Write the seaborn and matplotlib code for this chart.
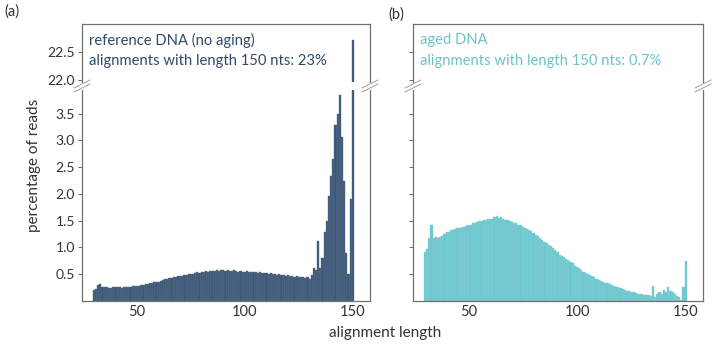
import numpy as np
import pandas as pd
import seaborn as sns
import matplotlib.pyplot as plt
from matplotlib.lines import Line2D

# alignment lengths 30..150 nts
lengths = list(range(30, 151))

ref_pct = [0.21, 0.22, 0.29, 0.31, 0.26, 0.27, 0.26, 0.25, 0.24, 0.26,
           0.26, 0.27, 0.26, 0.25, 0.26, 0.27, 0.26, 0.27, 0.28, 0.28,
           0.28, 0.28, 0.29, 0.30, 0.31, 0.32, 0.33, 0.34, 0.36, 0.35,
           0.36, 0.38, 0.40, 0.41, 0.42, 0.43, 0.43, 0.44, 0.45, 0.46,
           0.46, 0.47, 0.48, 0.48, 0.50, 0.50, 0.51, 0.52, 0.54, 0.53,
           0.55, 0.55, 0.56, 0.55, 0.56, 0.56, 0.56, 0.57, 0.56, 0.57,
           0.57, 0.56, 0.57, 0.56, 0.56, 0.57, 0.56, 0.55, 0.56, 0.55,
           0.54, 0.56, 0.55, 0.54, 0.55, 0.54, 0.53, 0.54, 0.53, 0.52,
           0.53, 0.51, 0.52, 0.50, 0.51, 0.49, 0.50, 0.48, 0.49, 0.47,
           0.48, 0.46, 0.47, 0.45, 0.46, 0.45, 0.44, 0.44, 0.43, 0.44,
           0.42, 0.48, 0.62, 0.58, 1.12, 0.62, 0.80, 1.29, 1.50, 1.97,
           2.33, 2.66, 3.28, 3.50, 3.84, 3.06, 2.25, 0.90, 0.51, 1.91,
           22.71]

aged_pct = [0.91, 0.97, 1.17, 1.42, 1.17, 1.20, 1.18, 1.19, 1.22, 1.25,
            1.28, 1.29, 1.32, 1.33, 1.34, 1.36, 1.37, 1.38, 1.39, 1.40,
            1.42, 1.41, 1.45, 1.46, 1.47, 1.49, 1.50, 1.51, 1.52, 1.53,
            1.54, 1.53, 1.57, 1.58, 1.55, 1.57, 1.54, 1.52, 1.51, 1.49,
            1.47, 1.46, 1.45, 1.42, 1.41, 1.39, 1.37, 1.35, 1.33, 1.30,
            1.27, 1.24, 1.21, 1.17, 1.14, 1.11, 1.08, 1.05, 1.02, 0.99,
            0.96, 0.91, 0.86, 0.84, 0.82, 0.79, 0.76, 0.73, 0.71, 0.66,
            0.63, 0.61, 0.58, 0.55, 0.53, 0.50, 0.48, 0.46, 0.44, 0.41,
            0.39, 0.38, 0.36, 0.34, 0.33, 0.31, 0.30, 0.28, 0.27, 0.26,
            0.24, 0.23, 0.21, 0.19, 0.18, 0.17, 0.16, 0.15, 0.14, 0.14,
            0.13, 0.12, 0.11, 0.11, 0.10, 0.28, 0.07, 0.14, 0.16, 0.13,
            0.20, 0.16, 0.27, 0.19, 0.16, 0.13, 0.10, 0.08, 0.02, 0.26,
            0.75]

panels = [
    dict(name="(a)", vals=ref_pct, color="#3d5675", edge="#5d7590", txtcolor="#2f4a68",
         lines=["reference DNA (no aging)", "alignments with length 150 nts: 23%"],
         left=82, right=370, ylabels=True),
    dict(name="(b)", vals=aged_pct, color="#6dc6cd", edge="#86d2d8", txtcolor="#6cc3ca",
         lines=["aged DNA", "alignments with length 150 nts: 0.7%"],
         left=413, right=703, ylabels=False),
]

sns.set_theme(style="white")
plt.rcParams['font.family'] = ['Lato', 'DejaVu Sans']
W, H = 720, 354
fig = plt.figure(figsize=(7.2, 3.54), dpi=100)

spine_c = "#707070"
for p in panels:
    df = pd.DataFrame({'len': lengths, 'pct': p['vals']})
    l = p['left'] / W
    w = (p['right'] - p['left']) / W
    ax_top = fig.add_axes([l, 1 - 82 / H, w, (82 - 24) / H])
    ax_bot = fig.add_axes([l, 1 - 301 / H, w, (301 - 90) / H])
    for ax in (ax_top, ax_bot):
        sns.histplot(data=df, x='len', weights='pct', discrete=True, ax=ax,
                     color=p['color'], alpha=1, edgecolor=p['edge'], linewidth=0.3)
        ax.set_xlim(24.5, 158)
        ax.set(xlabel=None, ylabel=None)
        for s in ax.spines.values():
            s.set_color(spine_c)
            s.set_linewidth(0.9)
        ax.tick_params(axis='y', which='both', left=True, length=3, width=0.8,
                       color=spine_c, labelsize=10, pad=2, labelcolor="#333333")
    ax_top.set_ylim(21.96, 23.0)
    ax_top.set_yticks([22.0, 22.5])
    ax_top.spines['bottom'].set_visible(False)
    ax_top.set_xticks([])
    ax_bot.set_ylim(0, 3.94)
    ax_bot.set_yticks([0.5, 1.0, 1.5, 2.0, 2.5, 3.0, 3.5])
    ax_bot.spines['top'].set_visible(False)
    ax_bot.set_xticks([50, 100, 150])
    ax_bot.tick_params(axis='x', labelsize=10.5, pad=3, length=0, labelcolor="#333333")
    if not p['ylabels']:
        ax_top.set_yticklabels([])
        ax_bot.set_yticklabels([])
    ax_top.text(0.025, 0.72, p['lines'][0], transform=ax_top.transAxes,
                color=p['txtcolor'], fontsize=10.6, va='center')
    ax_top.text(0.025, 0.36, p['lines'][1], transform=ax_top.transAxes,
                color=p['txtcolor'], fontsize=10.6, va='center')
    # break marks
    for xpx in (p['left'], p['right']):
        for dy in (-2, 2):
            y0 = 86 + dy
            fig.add_artist(Line2D([(xpx - 8) / W, (xpx + 8) / W],
                                  [1 - (y0 + 4) / H, 1 - (y0 - 4) / H],
                                  color="#aaaaaa", lw=0.8))

fig.text(4 / W, 1 - 12 / H, "(a)", fontsize=10.5, color="#333333", va='center')
fig.text(388 / W, 1 - 15 / H, "(b)", fontsize=10.5, color="#333333", va='center')
fig.text(34 / W, 1 - 165 / H, "percentage of reads", rotation=90, fontsize=11,
         color="#333333", ha='center', va='center')
fig.text(385 / W, 1 - 333 / H, "alignment length", fontsize=11,
         color="#333333", ha='center', va='center')

fig.savefig("out.png", dpi=100)
